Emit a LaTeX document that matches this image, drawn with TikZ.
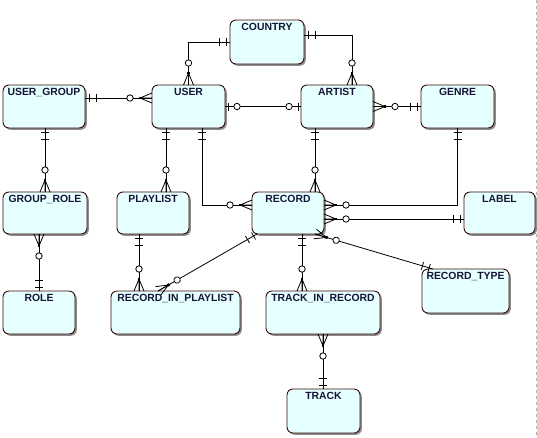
\documentclass[tikz,border=0pt]{standalone}
\usepackage{fontspec}
\setmainfont{Liberation Sans}
\usetikzlibrary{shadows,decorations.markings}
\definecolor{entfill}{HTML}{E6FFFF}
\definecolor{entline}{HTML}{3A0A0A}
\definecolor{enttext}{HTML}{141436}
\tikzset{
  entity/.style={draw=entline, line width=0.9pt, fill=entfill, rounded corners=6pt,
    inner sep=0pt, outer sep=0pt,
    drop shadow={shadow xshift=1.8pt, shadow yshift=-1.8pt, fill=black!45, opacity=1}},
  etitle/.style={inner sep=0pt, outer sep=0pt, text=enttext, font=\bfseries\fontsize{10.4}{12}\selectfont},
  rel/.style={draw=black, line width=0.8pt},
  mk/.style={line width=0.8pt, draw=black},
  one start/.style={postaction={decorate, decoration={markings,
     mark=at position 4pt with {\draw[mk] (0,-4pt)--(0,4pt);},
     mark=at position 11pt with {\draw[mk] (0,-4pt)--(0,4pt);}}}},
  one end/.style={postaction={decorate, decoration={markings,
     mark=at position -4pt with {\draw[mk] (0,-4pt)--(0,4pt);},
     mark=at position -11pt with {\draw[mk] (0,-4pt)--(0,4pt);}}}},
  many start/.style={postaction={decorate, decoration={markings,
     mark=at position 12pt with {\draw[mk] (0,0)--(-12pt,5pt) (0,0)--(-12pt,0) (0,0)--(-12pt,-5pt);
        \fill (-1.3pt,-1.3pt) rectangle (1.3pt,1.3pt);},
     mark=at position 22pt with {\draw[mk, fill=white] (0,0) circle (3.2pt);}}}},
  many end/.style={postaction={decorate, decoration={markings,
     mark=at position -12pt with {\draw[mk] (0,0)--(12pt,5pt) (0,0)--(12pt,0) (0,0)--(12pt,-5pt);
        \fill (-1.3pt,-1.3pt) rectangle (1.3pt,1.3pt);},
     mark=at position -22pt with {\draw[mk, fill=white] (0,0) circle (3.2pt);}}}},
  zo start/.style={postaction={decorate, decoration={markings,
     mark=at position 3pt with {\draw[mk] (0,-4pt)--(0,4pt);},
     mark=at position 12pt with {\draw[mk, fill=white] (0,0) circle (3.2pt);}}}},
  zo end/.style={postaction={decorate, decoration={markings,
     mark=at position -3pt with {\draw[mk] (0,-4pt)--(0,4pt);},
     mark=at position -12pt with {\draw[mk, fill=white] (0,0) circle (3.2pt);}}}},
}
\newcommand\entbox[6]{%
  \node[entity, minimum width={#4pt-#2pt}, minimum height={#5pt-#3pt}, anchor=north west] (#1) at (#2,#3) {};
  \node[etitle, anchor=north] (#1-t) at ([yshift=-3pt]#1.north) {#6};
}
\begin{document}
\begin{tikzpicture}[x=1pt, y=-1pt]
\useasboundingbox (0,0) rectangle (537,437);
\fill[white] (0,0) rectangle (537,437);
\draw[black!30, dashed, line width=0.6pt] (536,0) -- (536,437);

\entbox{country}{230}{20}{304}{64}{COUNTRY}
\entbox{usergroup}{3}{85}{85}{128}{USER\_GROUP}
\entbox{user}{152}{85}{225}{128}{USER}
\entbox{artist}{301}{85}{373}{128}{ARTIST}
\entbox{genre}{421}{85}{494}{128}{GENRE}
\entbox{grouprole}{3}{192}{87}{234}{GROUP\_ROLE}
\entbox{playlist}{117}{192}{189}{234}{PLAYLIST}
\entbox{record}{252}{192}{324}{234}{RECORD}
\entbox{label}{464}{192}{535}{234}{LABEL}
\entbox{role}{3}{291}{75}{334}{ROLE}
\entbox{rip}{111}{291}{240}{334}{RECORD\_IN\_PLAYLIST}
\entbox{tir}{266}{291}{380}{334}{TRACK\_IN\_RECORD}
\entbox{recordtype}{422}{269}{509}{313}{RECORD\_TYPE}
\entbox{track}{287}{389}{360}{433}{TRACK}

\coordinate (pl-top) at ([xshift=13pt]playlist.north);
\coordinate (ur-a) at ([xshift=13.5pt]user.south);
\coordinate (ar-b) at ([xshift=27pt]record.north);
\coordinate (pr-a) at ([xshift=-14pt]playlist.south);
\coordinate (rt-a) at ([xshift=14pt]record.south);

\draw[rel, one start, many end] (country.west) -| (user.north);
\draw[rel, one start, many end] ([yshift=-15pt]country.north east) -| ([xshift=15pt]artist.north);
\draw[rel, one start, many end] ([yshift=-13pt]usergroup.north east) -- ([yshift=-13pt]user.north west);
\draw[rel, zo start, zo end] (user.east) -- (artist.west);
\draw[rel, many start, one end] (artist.east) -- (genre.west);
\draw[rel, one start, many end] (usergroup.south -| grouprole.north) -- (grouprole.north);
\draw[rel, one start, many end] (pl-top |- user.south) -- (pl-top);
\draw[rel, one start, many end] (ur-a) |- ([yshift=-13pt]record.north west);
\draw[rel, one start, many end] (ar-b |- artist.south) -- (ar-b);
\draw[rel, one start, many end] (genre.south) |- ([yshift=-13pt]record.north east);
\draw[rel, one start, many end] ([yshift=-27pt]label.north west) -- ([yshift=-27pt]record.north east);
\draw[rel, many start, one end] (role.north |- grouprole.south) -- (role.north);
\draw[rel, one start, many end] (pr-a) -- (pr-a |- rip.north);
\draw[rel, one start, many end] ([xshift=5pt]record.south west) -- ([xshift=47pt]rip.north west);
\draw[rel, one start, many end] (rt-a) -- (rt-a |- tir.north);
\draw[rel, many start, one end] ([xshift=-9pt]record.south east) -- ([xshift=11pt]recordtype.north west);
\draw[rel, many start, one end] (tir.south) -- (tir.south |- track.north);
\end{tikzpicture}
\end{document}
